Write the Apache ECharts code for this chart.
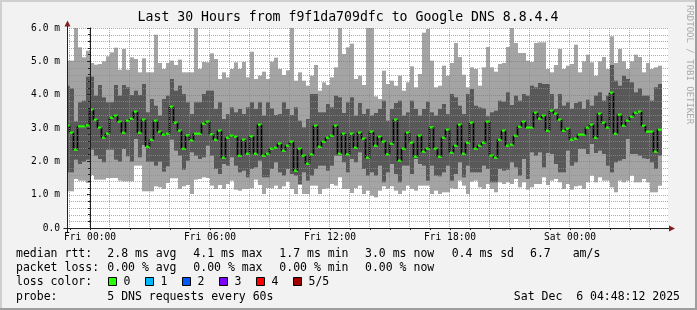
<!DOCTYPE html>
<html>
<head>
<meta charset="utf-8">
<script src="https://cdn.jsdelivr.net/npm/echarts@6.0.0/dist/echarts.min.js"></script>
<style>
html,body{margin:0;padding:0;background:#f2f2f2;}
#chart{width:697px;height:310px;}
</style>
</head>
<body>
<div id="chart"></div>
<script>
// ---------------- data ----------------
// time axis: hours relative to Fri 00:00; 12-minute RRD steps
const FIRST_STEP_H = -1.2;
const STEP_H = 0.2;

// 5 sorted pings per step (seconds, shown as "m" = milliseconds)
const pingMin = [
 1.10,1.10,1.47,1.42,1.42,1.35,1.59,1.45,1.45,1.45,1.50,1.50,1.50,1.42,1.40,1.40,1.40,1.87,1.87,1.10,1.10,1.10,1.25,1.22,1.17,1.35,1.49,1.49,1.17,1.25,
 1.29,1.02,1.45,1.47,1.52,1.50,1.27,1.17,1.29,1.17,1.32,1.42,1.15,1.12,1.17,1.17,1.19,1.45,1.29,1.02,1.20,1.19,1.27,1.17,1.25,1.39,1.17,1.02,1.29,1.02,
 1.02,1.27,1.27,1.02,1.17,1.19,1.32,1.27,1.52,1.17,1.17,1.05,1.19,1.27,1.02,1.12,0.97,0.92,1.12,1.25,1.17,1.25,1.12,1.02,1.12,1.27,1.17,1.12,1.27,1.27,
 1.27,1.02,1.12,1.02,1.07,1.07,1.19,1.17,1.42,1.27,1.02,1.39,1.42,1.22,1.17,1.32,1.17,1.07,1.37,1.32,1.37,1.32,1.47,1.22,1.37,1.15,1.22,1.32,1.32,1.52,
 1.29,1.42,1.47,1.37,1.17,1.32,1.15,1.25,1.27,1.17,1.37,1.57,1.37,1.52,1.42,1.42,1.22,1.07,1.42,1.37,1.42,1.57,1.37,1.37,1.47,1.37,1.07,1.07,1.27
];
const pingQ1 = [
 1.67,1.67,2.05,1.92,1.99,2.05,2.35,2.17,2.07,1.97,2.35,2.35,2.05,1.99,2.37,2.15,1.99,2.67,2.12,2.49,1.99,1.99,1.87,1.99,1.69,1.85,2.65,2.32,2.17,1.75,
 2.02,2.27,2.17,2.07,2.12,2.47,2.17,1.77,1.62,1.92,1.87,2.12,1.87,1.67,1.72,1.52,1.77,1.82,2.02,1.52,1.52,1.77,1.97,1.67,1.57,1.77,1.62,1.57,1.32,1.67,
 1.42,1.57,1.77,1.87,1.87,1.72,1.87,2.17,2.17,1.97,1.67,2.07,1.97,2.27,1.77,1.57,1.67,1.57,1.87,1.37,1.67,1.92,1.62,1.37,1.87,1.87,1.62,2.07,1.92,1.87,
 1.42,1.87,1.57,1.55,1.67,1.87,1.42,1.62,1.97,1.52,1.87,1.67,1.67,1.67,1.87,1.77,1.37,1.37,1.77,1.72,1.75,1.97,1.82,1.57,2.07,1.47,2.27,2.17,2.27,1.82,
 2.25,2.22,1.92,1.67,1.67,2.32,1.87,1.97,2.37,2.37,2.22,2.52,2.25,2.32,2.22,1.87,1.67,1.97,2.02,2.07,2.67,2.22,2.22,2.17,2.09,2.07,1.97,1.77,2.17
];
const median = [
 3.07,2.86,2.35,3.05,3.05,3.08,3.55,3.25,3.01,2.71,2.83,3.31,3.37,3.19,2.86,3.22,3.28,3.49,2.86,3.25,2.44,2.65,3.22,2.89,2.80,2.83,3.64,3.16,2.92,2.38,
 2.78,2.63,2.83,2.83,3.13,3.19,2.81,2.65,2.92,2.11,2.71,2.77,2.74,2.17,2.65,2.23,2.75,2.23,3.10,2.17,2.23,2.38,2.41,2.53,2.32,2.47,2.59,1.72,2.38,2.17,
 1.93,2.21,3.07,2.44,2.59,2.71,2.77,3.07,2.23,2.83,2.21,2.83,2.41,2.86,2.68,2.11,2.89,2.47,2.74,2.59,2.21,2.53,3.25,2.02,2.38,2.86,2.56,2.14,2.77,2.29,
 2.38,3.02,2.38,2.14,2.71,2.95,2.26,2.47,3.10,2.23,2.56,3.16,2.38,2.47,2.56,3.19,2.17,2.11,2.65,2.92,2.47,2.50,2.77,3.04,3.19,3.01,3.01,3.46,3.28,3.37,
 2.92,3.52,3.43,3.25,2.92,2.98,2.65,2.68,2.80,2.80,3.01,3.10,2.71,3.43,3.16,3.01,4.06,2.83,3.40,3.07,3.22,3.34,3.46,3.49,3.07,2.89,2.89,2.29,2.95
];
const pingQ3 = [
 4.27,4.19,3.20,3.77,3.82,4.54,4.54,3.97,4.29,3.92,3.77,3.77,4.29,3.97,4.29,4.22,3.99,4.12,3.99,4.32,3.47,3.87,3.67,3.37,3.87,3.97,4.47,4.12,4.27,4.02,
 3.77,3.42,3.77,3.77,4.02,4.12,4.12,3.57,3.77,3.27,3.42,3.62,3.47,3.57,3.42,3.62,3.77,3.57,3.77,3.37,3.77,3.59,3.39,3.42,3.77,3.57,3.39,3.62,3.22,3.02,
 3.27,4.02,4.02,3.47,3.47,3.72,3.62,3.97,3.92,3.45,3.77,3.92,3.37,3.75,3.42,3.57,3.37,3.45,3.57,3.82,3.22,3.57,3.75,3.82,3.37,3.47,3.82,3.57,3.37,3.57,
 3.79,3.47,3.37,3.57,3.72,3.42,4.02,3.92,3.67,3.42,4.02,4.17,3.67,3.62,3.59,3.35,3.47,3.52,3.82,3.79,4.07,3.69,3.97,3.82,4.02,3.97,4.27,4.22,4.35,4.32,
 4.32,4.02,3.57,4.02,3.67,3.77,3.57,3.75,3.79,3.57,3.85,3.67,3.97,4.07,3.82,3.97,4.89,4.42,4.27,4.57,4.47,4.37,4.07,4.19,3.97,3.97,3.82,4.22,4.32
];
const pingMax = [
 5.02,5.02,6.00,5.42,5.12,5.32,4.95,4.90,4.92,5.00,5.15,5.27,5.41,4.75,5.37,4.75,5.12,5.07,4.67,5.09,4.67,4.67,5.80,4.95,4.77,4.95,5.02,4.89,5.05,4.67,
 4.67,4.67,6.00,4.77,4.98,4.97,5.24,5.07,4.47,4.67,4.52,4.77,4.97,4.77,4.98,4.52,5.29,4.47,4.57,4.69,4.47,4.99,5.11,4.77,4.59,4.73,6.00,4.42,4.67,4.42,
 4.27,4.57,4.89,4.12,4.37,4.29,4.52,4.82,6.00,5.22,5.42,5.53,4.47,4.57,4.29,6.00,6.00,3.95,3.87,4.72,4.32,4.42,4.27,4.57,4.12,4.37,4.85,4.22,4.62,5.86,
 5.97,5.02,4.22,4.27,4.87,4.57,4.95,5.55,5.13,4.60,4.22,4.82,4.77,4.27,4.82,5.43,4.82,4.69,4.92,4.95,5.43,6.00,5.55,5.25,5.25,5.02,4.98,5.55,5.57,5.57,
 4.77,4.67,4.89,5.37,4.77,4.87,4.92,5.50,4.67,5.00,5.20,4.97,4.57,5.00,5.13,4.77,5.75,4.95,5.37,5.00,4.77,5.00,5.20,5.13,4.67,4.95,4.77,4.82,4.87
];

// axis ticks / labels
const xLabelHours = [0, 6, 12, 18, 24];
const xLabelText = ['Fri 00:00', 'Fri 06:00', 'Fri 12:00', 'Fri 18:00', 'Sat 00:00'];
const yLabelValues = [0, 1, 2, 3, 4, 5, 6];
const yLabelText = ['0.0', '1.0 m', '2.0 m', '3.0 m', '4.0 m', '5.0 m', '6.0 m'];

// legend texts
const titleText = 'Last 30 Hours from f9f1da709dfc to Google DNS 8.8.4.4';
const legendRows = [
  ['median rtt:', '2.8 ms avg', '4.1 ms max', '1.7 ms min', '3.0 ms now', '0.4 ms sd', '6.7', 'am/s'],
  ['packet loss:', '0.00 % avg', '0.00 % max', '0.00 % min', '0.00 % now'],
  ['loss color:'],
  ['probe:', '5 DNS requests every 60s']
];
const lossLabels = ['0', '1', '2', '3', '4', '5/5'];
const lossColors = ['#26ff00', '#00b8ff', '#0059ff', '#7e00ff', '#ff0000', '#a10000'];
const dateText = 'Sat Dec  6 04:48:12 2025';
const watermark = 'RRDTOOL / TOBI OETIKER';

// ---------------- layout / style ----------------
const X_MIN = -1.15, X_MAX = 28.9, Y_MIN = 0, Y_MAX = 6;
const MONO = '"DejaVu Sans Mono", monospace';
const LIGHT = '#a4a4a4', DARK = '#585858';
const GRID_MINOR = 'rgba(143,143,143,0.75)';
const GRID_MAJOR = 'rgba(222,79,79,0.6)';
const ARROW = '#801f1f', AXIS = '#1f1f1f';

const stepStart = median.map((_, i) => FIRST_STEP_H + i * STEP_H);
const smokeRows = median.map((m, i) => [stepStart[i], pingMin[i], pingQ1[i], m, pingQ3[i], pingMax[i]]);
const medianRows = median.map((m, i) => [stepStart[i], m]);

const hourTicks = [];
for (let h = Math.ceil(X_MIN); h <= Math.floor(X_MAX); h++) hourTicks.push(h);
const yGridVals = [];
for (let k = 1; k <= 30; k++) yGridVals.push(+(k * 0.2).toFixed(1));

function renderSmoke(params, api) {
  const cs = params.coordSys;
  const t0 = api.value(0);
  const x0 = Math.max(api.coord([t0, 0])[0], cs.x);
  const x1 = api.coord([t0 + STEP_H, 0])[0];
  const py = v => Math.max(api.coord([t0, v])[1], cs.y);
  const yMin = py(api.value(1)), yQ1 = py(api.value(2)), yQ3 = py(api.value(4)), yMax = py(api.value(5));
  return {
    type: 'group',
    children: [
      { type: 'rect', shape: { x: x0, y: yMax, width: x1 - x0, height: yMin - yMax }, style: { fill: LIGHT } },
      { type: 'rect', shape: { x: x0, y: yQ3, width: x1 - x0, height: yQ1 - yQ3 }, style: { fill: DARK } }
    ]
  };
}

function renderMedian(params, api) {
  const cs = params.coordSys;
  const i = params.dataIndex;
  const t0 = api.value(0);
  const m = api.value(1);
  const p = api.coord([t0, m]);
  const x0 = Math.max(p[0], cs.x);
  const x1 = api.coord([t0 + STEP_H, m])[0];
  const children = [];
  if (i > 0) {
    const yPrev = api.coord([t0, median[i - 1]])[1];
    children.push({ type: 'line', shape: { x1: p[0] - 0.5, y1: yPrev, x2: p[0] - 0.5, y2: p[1] },
      style: { stroke: '#000', lineWidth: 1.6 } });
  }
  children.push({ type: 'line', shape: { x1: x0, y1: p[1], x2: x1, y2: p[1] },
    style: { stroke: lossColors[0], lineWidth: 2.2 } });
  return { type: 'group', children };
}

function renderVGrid(params, api) {
  const cs = params.coordSys;
  const h = api.value(0);
  const x = Math.round(api.coord([h, 0])[0]) - 0.5;
  return { type: 'line', shape: { x1: x, y1: cs.y, x2: x, y2: cs.y + cs.height },
    style: { stroke: h % 3 === 0 ? GRID_MAJOR : GRID_MINOR, lineWidth: 1, lineDash: [1, 1] } };
}
function renderHGrid(params, api) {
  const cs = params.coordSys;
  const v = api.value(1);
  const y = Math.round(api.coord([X_MIN, v])[1]) + 0.5;
  const major = Math.abs(v - Math.round(v)) < 1e-6;
  return { type: 'line', shape: { x1: cs.x, y1: y, x2: cs.x + cs.width, y2: y },
    style: { stroke: major ? GRID_MAJOR : GRID_MINOR, lineWidth: 1, lineDash: [1, 1] } };
}

const chart = echarts.init(document.getElementById('chart'), null, { renderer: 'canvas' });

const option = {
  animation: false,
  backgroundColor: '#f2f2f2',
  grid: { left: 67, right: 29, top: 28, bottom: 82, show: true, backgroundColor: '#ffffff', borderWidth: 0 },
  xAxis: {
    type: 'value', min: X_MIN, max: X_MAX, z: 6,
    splitLine: { show: false },
    axisLine: { show: true, onZero: false, lineStyle: { color: AXIS, width: 1 } },
    axisTick: { show: true, length: 2, customValues: hourTicks, lineStyle: { color: AXIS } },
    axisLabel: {
      customValues: xLabelHours,
      formatter: v => { const k = xLabelHours.indexOf(Math.round(v)); return k >= 0 ? xLabelText[k] : ''; },
      margin: 4, fontFamily: MONO, fontSize: 9.6, color: '#000'
    }
  },
  yAxis: {
    type: 'value', min: Y_MIN, max: Y_MAX, interval: 1, z: 6,
    splitLine: { show: false },
    axisLine: { show: true, lineStyle: { color: AXIS, width: 1 } },
    axisTick: { show: true, length: 3, lineStyle: { color: AXIS } },
    minorTick: { show: true, splitNumber: 5, length: 2, lineStyle: { color: AXIS } },
    axisLabel: {
      formatter: v => { const k = yLabelValues.indexOf(Math.round(v)); return k >= 0 ? yLabelText[k] : ''; },
      margin: 7, fontFamily: MONO, fontSize: 9.6, color: '#000'
    }
  },
  series: [
    { type: 'custom', name: 'smoke', renderItem: renderSmoke, data: smokeRows, z: 2, silent: true,
      encode: { x: 0, y: [1, 5] } },
    { type: 'custom', name: 'median', renderItem: renderMedian, data: medianRows, z: 3, silent: true,
      encode: { x: 0, y: 1 } },
    { type: 'custom', name: 'vgrid', renderItem: renderVGrid, data: hourTicks.map(h => [h, 0]), z: 4, silent: true,
      encode: { x: 0, y: 1 } },
    { type: 'custom', name: 'hgrid', renderItem: renderHGrid, data: yGridVals.map(v => [X_MIN, v]), z: 4, silent: true,
      encode: { x: 0, y: 1 } }
  ]
};
chart.setOption(option);

// ---------- decorations: frame, arrows, title, legend ----------
const W = 697, H = 310;
const o = chart.convertToPixel({ gridIndex: 0 }, [X_MIN, Y_MIN]);
const r = chart.convertToPixel({ gridIndex: 0 }, [X_MAX, Y_MIN]);
const t = chart.convertToPixel({ gridIndex: 0 }, [X_MIN, Y_MAX]);
const ax = Math.round(o[0]) + 0.5, ay = Math.round(o[1]) + 0.5;

const g = [];
// 3D frame
g.push({ type: 'rect', shape: { x: 0, y: 0, width: W, height: 2 }, style: { fill: '#cfcfcf' }, z: 50 });
g.push({ type: 'rect', shape: { x: 0, y: 0, width: 2, height: H }, style: { fill: '#cfcfcf' }, z: 50 });
g.push({ type: 'rect', shape: { x: 0, y: H - 2, width: W, height: 2 }, style: { fill: '#9e9e9e' }, z: 50 });
g.push({ type: 'rect', shape: { x: W - 2, y: 0, width: 2, height: H }, style: { fill: '#9e9e9e' }, z: 50 });
// axis extensions and arrows
g.push({ type: 'line', shape: { x1: ax - 4, y1: ay, x2: r[0] + 1, y2: ay }, style: { stroke: AXIS, lineWidth: 1 }, z: 40 });
g.push({ type: 'line', shape: { x1: ax, y1: ay + 4, x2: ax, y2: t[1] - 2 }, style: { stroke: AXIS, lineWidth: 1 }, z: 40 });
g.push({ type: 'polygon', shape: { points: [[r[0] + 1, ay - 3], [r[0] + 7, ay], [r[0] + 1, ay + 3]] }, style: { fill: ARROW }, z: 41 });
g.push({ type: 'polygon', shape: { points: [[ax - 3, t[1] - 1.5], [ax, t[1] - 7.5], [ax + 3, t[1] - 1.5]] }, style: { fill: ARROW }, z: 41 });
// title
g.push({ type: 'text', x: 348, y: 18, z: 42,
  style: { text: titleText, fontFamily: MONO, fontSize: 13.2, fill: '#000', align: 'center', verticalAlign: 'middle' } });
// watermark
g.push({ type: 'text', x: 689, y: 5, rotation: -Math.PI / 2, z: 42,
  style: { text: watermark, fontFamily: MONO, fontSize: 9, fill: '#aaaaaa', align: 'left', verticalAlign: 'middle' } });
// legend rows
const rowY = [253.8, 268.1, 282.2, 296.7];
const colX = [16, 107.3, 193.3, 279.3, 365, 451.7, 530, 572.7];
const LEG_FS = 11.5;
legendRows.forEach((row, ri) => {
  row.forEach((txt, ci) => {
    g.push({ type: 'text', x: colX[ci], y: rowY[ri], z: 42,
      style: { text: txt, fontFamily: MONO, fontSize: LEG_FS, fill: '#000', align: 'left', verticalAlign: 'middle' } });
  });
});
lossLabels.forEach((lab, i) => {
  const bx = 108.5 + i * 37;
  g.push({ type: 'rect', shape: { x: bx, y: 277.5, width: 8, height: 8 }, z: 42,
    style: { fill: lossColors[i], stroke: '#000', lineWidth: 1 } });
  g.push({ type: 'text', x: bx + 15, y: rowY[2], z: 42,
    style: { text: lab, fontFamily: MONO, fontSize: LEG_FS, fill: '#000', align: 'left', verticalAlign: 'middle' } });
});
g.push({ type: 'text', x: 680, y: rowY[3], z: 42,
  style: { text: dateText, fontFamily: MONO, fontSize: LEG_FS, fill: '#000', align: 'right', verticalAlign: 'middle' } });

chart.setOption({ graphic: { elements: g } });
</script>
</body>
</html>
